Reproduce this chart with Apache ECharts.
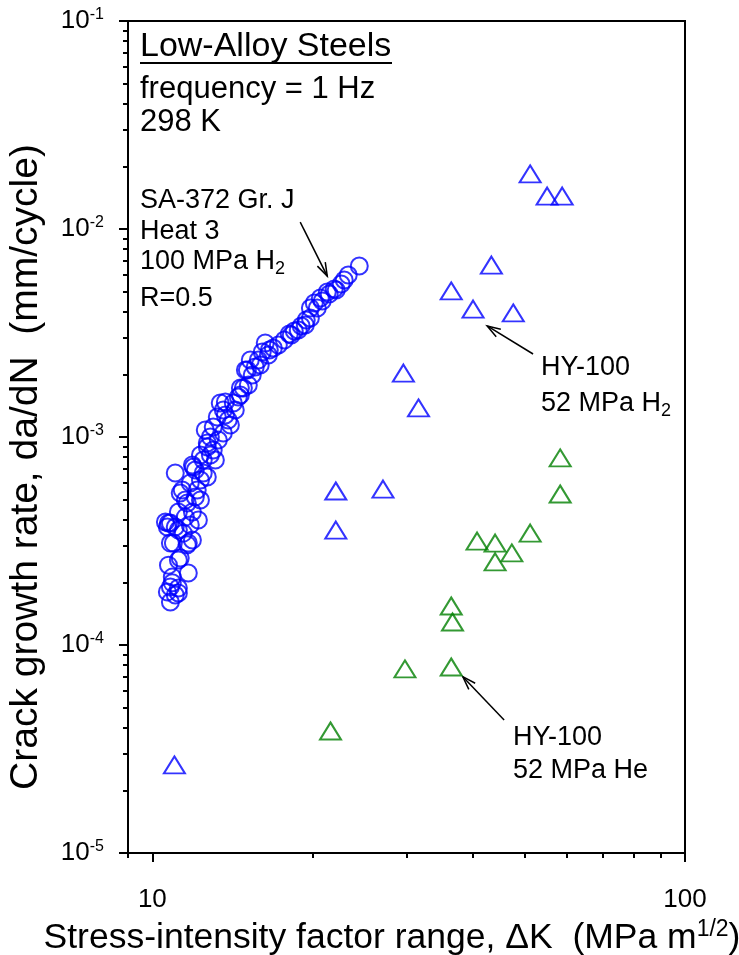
<!DOCTYPE html>
<html><head><meta charset="utf-8">
<script src="https://cdn.jsdelivr.net/npm/echarts@6/dist/echarts.min.js"></script>
<style>html,body{margin:0;padding:0;background:#fff}#c{width:739px;height:955px}</style>
</head><body><div id="c"></div>
<script>
// ---- data (ΔK in MPa m^1/2, da/dN in mm/cycle) ----
const xMajorTicks = [10, 100];
const xMinorTicks = [9, 20, 30, 40, 50, 60, 70, 80, 90];
const yMajorTicks = [1e-5, 1e-4, 1e-3, 1e-2, 1e-1];
const yMinorTicks = [2e-5,3e-5,4e-5,5e-5,6e-5,7e-5,8e-5,9e-5,
  2e-4,3e-4,4e-4,5e-4,6e-4,7e-4,8e-4,9e-4,
  2e-3,3e-3,4e-3,5e-3,6e-3,7e-3,8e-3,9e-3,
  2e-2,3e-2,4e-2,5e-2,6e-2,7e-2,8e-2,9e-2];

const sa372 = [
 [10.81,1.61e-4],[11.19,1.78e-4],[11.04,1.74e-4],[10.67,1.80e-4],[11.19,1.88e-4],[10.81,1.90e-4],
 [10.90,1.99e-4],[10.90,2.12e-4],[11.68,2.22e-4],[10.72,2.42e-4],[11.19,2.56e-4],[11.28,2.62e-4],
 [11.63,3.03e-4],[10.81,3.09e-4],[10.95,3.09e-4],[11.68,3.09e-4],[11.89,3.20e-4],[11.43,3.45e-4],
 [11.19,3.57e-4],[11.04,3.69e-4],[10.67,3.69e-4],[10.72,3.86e-4],[10.58,3.90e-4],[10.81,3.86e-4],
 [11.53,4.12e-4],[11.19,4.36e-4],[11.89,4.36e-4],[11.63,4.82e-4],[12.04,5.15e-4],[11.28,5.38e-4],
 [11.38,5.56e-4],[11.78,6.01e-4],[11.04,6.71e-4],[12.46,6.71e-4],[11.89,7.33e-4],[12.68,6.42e-4],
 [12.46,7.75e-4],[11.94,7.17e-4],[12.68,8.95e-4],[12.68,9.36e-4],[12.85,1.00e-3],[13.01,1.117e-3],
 [13.24,1.248e-3],[13.59,1.045e-3],[13.88,1.207e-3],[13.41,1.457e-3],[13.71,1.473e-3],[13.59,1.348e-3],
 [14.19,1.457e-3],[14.50,1.557e-3],[14.63,1.72e-3],[14.82,1.72e-3],[15.08,2.10e-3],[14.95,2.10e-3],
 [15.40,1.987e-3],[15.60,2.171e-3],[15.81,2.346e-3],[16.08,2.563e-3],[16.29,2.83e-3],[16.58,2.621e-3],
 [16.87,2.679e-3],[17.24,2.769e-3],[17.69,2.926e-3],[18.07,3.127e-3],[18.23,3.093e-3],[18.47,3.232e-3],
 [18.79,3.268e-3],[19.03,3.418e-3],[19.37,3.456e-3],[19.45,3.652e-3],[19.80,3.734e-3],[19.80,4.171e-3],
 [20.14,4.409e-3],[20.40,4.171e-3],[20.67,4.66e-3],[20.84,4.508e-3],[21.30,4.978e-3],[21.48,4.87e-3],
 [21.95,5.146e-3],[22.14,5.089e-3],[22.62,5.44e-3],[22.92,5.687e-3],[23.32,6.01e-3],[24.46,6.64e-3],
 [12.31,6.21e-4],[12.14,5.56e-4],[12.31,4.98e-4],[12.20,3.99e-4],[11.78,3.78e-4],[12.31,8.19e-4],
 [13.01,8.66e-4],[12.57,1.08e-3],[13.30,9.67e-4],[13.71,1.276e-3],[14.01,1.142e-3],[14.31,1.348e-3],
 [14.63,1.592e-3],[15.14,1.778e-3],[15.27,2.346e-3],[15.94,2.219e-3],[16.51,2.479e-3],[13.13,7.75e-4],
 [11.53,4.98e-4],[12.04,6.94e-4],[12.85,8.19e-4]
];
const hy100H2 = [
 [51.2,0.0184],[55.1,0.0144],[58.8,0.0144],[43.3,0.00671],[36.4,0.00504],[40.0,0.00412],
 [47.6,0.00395],[29.6,0.00203],[31.6,0.00138],[22.1,5.50e-4],[27.1,5.62e-4],[22.1,3.57e-4],[11.0,2.65e-5]
];
const hy100He = [
 [58.3,7.93e-4],[58.3,5.32e-4],[51.2,3.45e-4],[40.7,3.16e-4],[44.0,3.09e-4],[47.3,2.77e-4],
 [44.0,2.51e-4],[36.4,1.54e-4],[36.6,1.29e-4],[29.8,7.67e-5],[36.4,7.84e-5],[21.6,3.86e-5]
];
// annotation arrows: [fromX, fromY, toX, toY] in data units
const arrows = [
 [18.95, 0.0108, 21.30, 0.00594],
 [51.85, 0.002506, 42.52, 0.003418],
 [45.75, 4.36e-5, 38.27, 7.04e-5]
];

// ---- chart ----
const FONT = 'Liberation Sans, Arial, Helvetica, sans-serif';
const chart = echarts.init(document.getElementById('c'), null, {renderer: 'canvas'});
const gridPos = {left: 128, right: 54, top: 21, bottom: 102, containLabel: false, outerBoundsMode: 'none'};
const expLabel = v => '{b|10}{s|' + Math.round(Math.log10(v)) + '}';
const tickRich = {
  b: {fontSize: 26, fontFamily: FONT, color: '#000'},
  s: {fontSize: 16, fontFamily: FONT, color: '#000', padding: [0, 0, 12, 0]}
};
const blk = {color: '#000', width: 2};

const option = {
  animation: false,
  backgroundColor: '#fff',
  grid: [
    Object.assign({show: true, borderColor: '#000', borderWidth: 2, backgroundColor: 'transparent'}, gridPos),
    Object.assign({show: false}, gridPos)
  ],
  xAxis: [{
    type: 'log', logBase: 10, min: 9, max: 100, gridIndex: 0,
    axisLine: {show: true, lineStyle: blk},
    axisTick: {show: true, length: 9, customValues: xMajorTicks, lineStyle: blk},
    axisLabel: {customValues: xMajorTicks, margin: 34, fontSize: 26, fontFamily: FONT, color: '#000',
      formatter: v => String(Math.round(v))},
    splitLine: {show: false},
    name: '{a|Stress-intensity factor range, ΔK  (MPa m}{s|1/2}{a|)}',
    nameLocation: 'middle', nameGap: 65,
    nameTextStyle: {padding: [0, 29, 0, 0], rich: {
      a: {fontSize: 35.5, fontFamily: FONT, color: '#000'},
      s: {fontSize: 23, fontFamily: FONT, color: '#000', padding: [0, 0, 18, 0]}
    }}
  }, {
    type: 'log', logBase: 10, min: 9, max: 100, gridIndex: 1,
    axisLine: {show: false},
    axisTick: {show: true, length: 5, customValues: xMinorTicks, lineStyle: blk},
    axisLabel: {show: false}, splitLine: {show: false}
  }],
  yAxis: [{
    type: 'log', logBase: 10, min: 1e-5, max: 1e-1, gridIndex: 0,
    axisLine: {show: true, lineStyle: blk},
    axisTick: {show: true, length: 9, customValues: yMajorTicks, lineStyle: blk},
    axisLabel: {customValues: yMajorTicks, margin: 24, formatter: expLabel, rich: tickRich},
    splitLine: {show: false},
    name: 'Crack growth rate, da/dN  (mm/cycle)',
    nameLocation: 'middle', nameGap: 82, nameRotate: 90,
    nameTextStyle: {fontSize: 39, fontFamily: FONT, color: '#000', padding: [0, 60, 0, 0]}
  }, {
    type: 'log', logBase: 10, min: 1e-5, max: 1e-1, gridIndex: 1,
    axisLine: {show: false},
    axisTick: {show: true, length: 5, customValues: yMinorTicks, lineStyle: blk},
    axisLabel: {show: false}, splitLine: {show: false}
  }],
  series: [{
    name: 'SA-372 Gr. J, 100 MPa H2', type: 'scatter', xAxisIndex: 0, yAxisIndex: 0,
    data: sa372, symbol: 'circle', symbolSize: 17,
    itemStyle: {color: 'rgba(0,0,0,0)', borderColor: '#0000ff', borderWidth: 2}
  }, {
    name: 'HY-100, 52 MPa H2', type: 'scatter', xAxisIndex: 0, yAxisIndex: 0,
    data: hy100H2, symbol: 'triangle', symbolSize: [21, 17],
    itemStyle: {color: 'rgba(0,0,0,0)', borderColor: '#0000ff', borderWidth: 2}
  }, {
    name: 'HY-100, 52 MPa He', type: 'scatter', xAxisIndex: 0, yAxisIndex: 0,
    data: hy100He, symbol: 'triangle', symbolSize: [21, 17],
    itemStyle: {color: 'rgba(0,0,0,0)', borderColor: '#008000', borderWidth: 2}
  }, {
    type: 'custom', xAxisIndex: 0, yAxisIndex: 0, data: arrows,
    encode: {x: [0, 2], y: [1, 3]}, silent: true,
    renderItem: function (params, api) {
      const p1 = api.coord([api.value(0), api.value(1)]);
      const p2 = api.coord([api.value(2), api.value(3)]);
      const ang = Math.atan2(p2[1] - p1[1], p2[0] - p1[0]);
      const L = 14, a = 0.32;
      const h1 = [p2[0] - L * Math.cos(ang - a), p2[1] - L * Math.sin(ang - a)];
      const h2 = [p2[0] - L * Math.cos(ang + a), p2[1] - L * Math.sin(ang + a)];
      return {type: 'group', children: [
        {type: 'line', shape: {x1: p1[0], y1: p1[1], x2: p2[0], y2: p2[1]}, style: {stroke: '#000', lineWidth: 1.5}},
        {type: 'polyline', shape: {points: [h1, p2, h2]}, style: {stroke: '#000', lineWidth: 1.5, fill: null}}
      ]};
    }
  }],
  graphic: (function () {
    const t = (x, y, text, size, rich) => ({
      type: 'text', x: x, y: y, silent: true,
      style: {text: text, fontSize: size, fontFamily: FONT, fill: '#000', verticalAlign: 'middle', align: 'left', rich: rich}
    });
    const subRich = {
      a: {fontSize: 27, fontFamily: FONT, fill: '#000'},
      s: {fontSize: 18, fontFamily: FONT, fill: '#000', padding: [14, 0, 0, 0]}
    };
    return [
      t(140, 47, 'Low-Alloy Steels', 34),
      {type: 'rect', silent: true, shape: {x: 140, y: 62, width: 252, height: 2}, style: {fill: '#000'}},
      t(140, 89, 'frequency = 1 Hz', 31),
      t(140, 122, '298 K', 31),
      t(140, 201, 'SA-372 Gr. J', 27),
      t(140, 232, 'Heat 3', 27),
      t(140, 262, '{a|100 MPa H}{s|2}', 27, subRich),
      t(140, 299, 'R=0.5', 27),
      t(541, 368, 'HY-100', 27),
      t(541, 404, '{a|52 MPa H}{s|2}', 27, subRich),
      t(513, 738, 'HY-100', 27),
      t(513, 771, '52 MPa He', 27)
    ];
  })()
};
chart.setOption(option);
</script>
</body></html>
